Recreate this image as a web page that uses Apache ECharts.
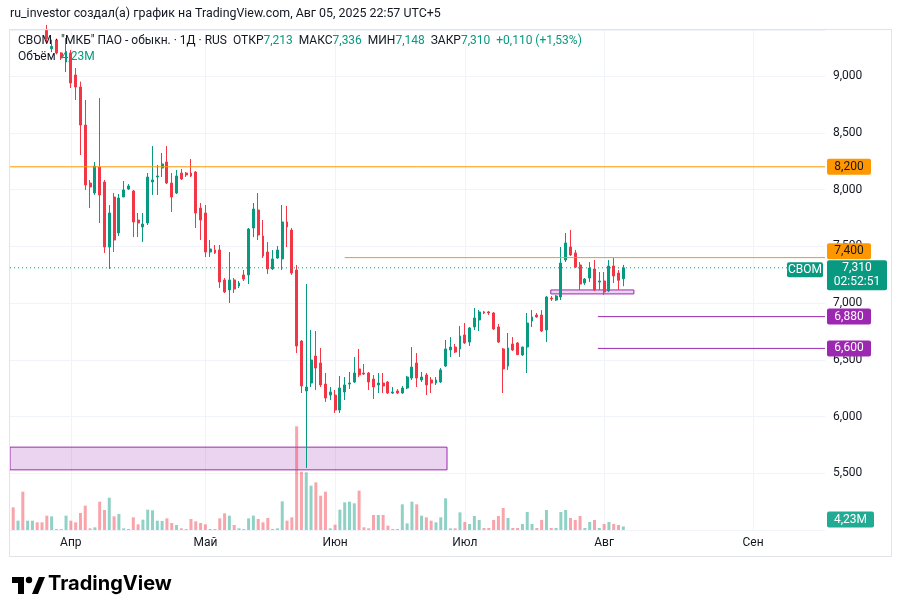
<!DOCTYPE html>
<html>
<head>
<meta charset="utf-8">
<script src="https://cdn.jsdelivr.net/npm/echarts@6.0.0/dist/echarts.min.js"></script>
<style>
  html, body { margin: 0; padding: 0; background: #fff; }
  #chart { width: 902px; height: 616px; }
</style>
</head>
<body>
<div id="chart"></div>
<script>
// Daily bars of СВОМ, one slot per session (slot 0 = first bar at the left edge)
const opens = [
  9.75, 9.55, 9.70, 9.50, 9.58, 9.66, 9.55, 9.40, 9.24, 9.317,
  9.203, 9.123, 9.203, 9.009, 8.903, 8.568, 8.057, 7.969, 8.198, 8.066,
  7.493, 7.934, 7.617, 7.934, 8.004, 7.987, 7.731, 7.670, 7.705, 8.066,
  8.110, 8.189, 8.242, 8.057, 7.969, 8.145, 8.145, 8.145, 8.154, 7.837,
  7.793, 7.449, 7.467, 7.467, 7.203, 7.115, 7.203, 7.150, 7.247, 7.247,
  7.661, 7.819, 7.590, 7.449, 7.300, 7.396, 7.388, 7.714, 7.643, 7.291,
  6.665, 6.225, 6.295, 6.533, 6.471, 6.286, 6.189, 6.189, 6.057, 6.216,
  6.286, 6.304, 6.419, 6.383, 6.383, 6.330, 6.278, 6.295, 6.304, 6.207,
  6.225, 6.207, 6.251, 6.339, 6.471, 6.322, 6.366, 6.322, 6.295, 6.304,
  6.445, 6.586, 6.612, 6.595, 6.718, 6.656, 6.789, 6.850, 6.921, 6.921,
  6.912, 6.789, 6.595, 6.445, 6.639, 6.648, 6.542, 6.612, 6.841, 6.894,
  6.894, 6.762, 7.044, 7.026, 7.053, 7.379, 7.493, 7.441, 7.335, 7.176,
  7.220, 7.300, 7.185, 7.194, 7.106, 7.326, 7.264, 7.213
];
const highs = [
  9.80, 9.70, 9.75, 9.62, 9.70, 9.70, 9.60, 9.45, 9.32, 9.33,
  9.21, 9.335, 9.229, 9.070, 8.95, 8.789, 8.084, 8.242, 8.806, 8.084,
  7.863, 7.969, 7.960, 8.075, 8.048, 7.996, 7.793, 7.793, 8.145, 8.383,
  8.216, 8.322, 8.383, 8.145, 8.172, 8.181, 8.154, 8.269, 8.163, 7.881,
  7.863, 7.555, 7.511, 7.511, 7.220, 7.449, 7.220, 7.194, 7.291, 7.661,
  7.881, 7.969, 7.731, 7.537, 7.467, 7.502, 7.863, 7.855, 7.661, 7.335,
  6.674, 7.167, 6.762, 6.753, 6.604, 6.383, 6.260, 6.233, 6.357, 6.348,
  6.392, 6.524, 6.595, 6.463, 6.392, 6.366, 6.383, 6.383, 6.313, 6.260,
  6.242, 6.269, 6.357, 6.612, 6.559, 6.392, 6.383, 6.348, 6.348, 6.427,
  6.674, 6.700, 6.639, 6.797, 6.824, 6.789, 6.956, 6.938, 6.930, 6.930,
  6.921, 6.815, 6.604, 6.736, 6.700, 6.656, 6.615, 6.912, 6.938, 6.912,
  6.938, 7.062, 7.062, 7.070, 7.493, 7.617, 7.643, 7.467, 7.361, 7.220,
  7.361, 7.379, 7.273, 7.273, 7.379, 7.396, 7.291, 7.336
];
const lows = [
  9.55, 9.50, 9.48, 9.47, 9.55, 9.50, 9.44, 9.30, 9.21, 9.19,
  9.141, 9.035, 8.894, 8.789, 8.304, 7.996, 7.837, 7.952, 7.705, 7.441,
  7.300, 7.449, 7.590, 7.934, 7.996, 7.581, 7.581, 7.537, 7.687, 7.952,
  7.952, 8.110, 8.048, 7.802, 7.960, 8.084, 8.110, 8.110, 7.661, 7.555,
  7.405, 7.405, 7.432, 7.132, 7.088, 7.000, 7.088, 7.132, 7.194, 7.167,
  7.581, 7.555, 7.396, 7.256, 7.291, 7.388, 7.291, 7.493, 7.247, 6.559,
  6.207, 5.546, 6.260, 6.233, 6.260, 6.128, 6.145, 6.031, 6.031, 6.145,
  6.242, 6.295, 6.348, 6.366, 6.233, 6.154, 6.207, 6.207, 6.198, 6.198,
  6.198, 6.198, 6.242, 6.322, 6.260, 6.304, 6.189, 6.207, 6.278, 6.295,
  6.436, 6.524, 6.559, 6.524, 6.639, 6.621, 6.762, 6.753, 6.903, 6.894,
  6.762, 6.648, 6.207, 6.410, 6.577, 6.542, 6.533, 6.383, 6.789, 6.870,
  6.744, 6.656, 7.018, 7.018, 7.026, 7.361, 7.414, 7.308, 7.115, 7.159,
  7.185, 7.106, 7.115, 7.070, 7.097, 7.176, 7.115, 7.148
];
const closes = [
  9.60, 9.65, 9.50, 9.60, 9.66, 9.52, 9.46, 9.33, 9.26, 9.203,
  9.159, 9.211, 8.938, 8.903, 8.568, 8.040, 8.022, 8.207, 7.952, 7.493,
  7.793, 7.555, 7.925, 7.996, 8.031, 7.714, 7.705, 7.696, 8.110, 8.084,
  8.119, 8.225, 8.057, 7.934, 8.119, 8.093, 8.128, 8.119, 7.793, 7.731,
  7.449, 7.476, 7.441, 7.185, 7.097, 7.203, 7.123, 7.176, 7.211, 7.652,
  7.828, 7.599, 7.414, 7.300, 7.388, 7.467, 7.714, 7.670, 7.264, 6.621,
  6.269, 6.260, 6.498, 6.427, 6.278, 6.163, 6.216, 6.057, 6.251, 6.278,
  6.295, 6.383, 6.366, 6.374, 6.304, 6.260, 6.295, 6.269, 6.207, 6.216,
  6.207, 6.251, 6.348, 6.436, 6.339, 6.348, 6.278, 6.295, 6.322, 6.410,
  6.595, 6.612, 6.568, 6.709, 6.648, 6.780, 6.868, 6.921, 6.912, 6.912,
  6.771, 6.656, 6.419, 6.604, 6.586, 6.545, 6.612, 6.824, 6.877, 6.877,
  6.753, 7.053, 7.035, 7.062, 7.352, 7.529, 7.423, 7.317, 7.167, 7.211,
  7.308, 7.115, 7.194, 7.097, 7.326, 7.238, 7.200, 7.310
];
// volume, millions of shares
const volumes = [
  27.2, 11.2, 46.0, 11.2, 11.2, 9.2, 9.2, 17.2, 16.4, 1.2,
  1.2, 17.2, 11.2, 9.2, 20.4, 29.2, 2.0, 3.2, 34.0, 24.0,
  38.8, 16.4, 19.2, 2.0, 1.2, 15.2, 6.8, 12.4, 24.4, 23.6,
  11.2, 10.8, 14.0, 8.4, 6.0, 2.0, 1.2, 13.2, 10.4, 8.4,
  6.8, 1.2, 1.2, 14.0, 20.0, 17.2, 6.0, 2.0, 1.2, 14.0,
  17.2, 13.2, 9.2, 14.4, 1.2, 2.0, 34.4, 11.2, 15.2, 124.4,
  70.0, 69.2, 53.2, 57.2, 41.2, 46.0, 2.0, 6.4, 24.4, 33.2,
  34.0, 32.0, 47.2, 3.2, 2.0, 18.0, 18.0, 18.0, 5.2, 1.2,
  1.2, 30.8, 8.0, 34.0, 30.8, 17.2, 15.2, 11.2, 9.2, 15.2,
  38.0, 2.0, 2.0, 21.2, 9.6, 7.2, 16.8, 12.0, 2.4, 2.4,
  12.0, 16.8, 26.4, 14.4, 2.4, 2.4, 7.2, 21.6, 7.2, 2.4,
  12.0, 24.0, 2.4, 2.4, 21.6, 24.0, 14.4, 12.0, 16.8, 2.4,
  9.6, 12.0, 2.4, 7.2, 9.6, 7.2, 6.0, 4.23
];
const monthSlots = [12, 40, 67, 94, 123, 154];
const monthNames = ['Апр', 'Май', 'Июн', 'Июл', 'Авг', 'Сен'];
const priceLevels = [8.2, 7.4, 6.88, 6.6];
const levelStartSlots = [null, 69, 121.7, 121.7];
const zoneSlots = [[null, 90.3], [111.9, 129.2]];
const zonePrices = [[5.53, 5.73], [7.08, 7.115]];
const ticker = 'СВОМ';
const countdown = '02:52:51';

const UP = '#089981';
const DOWN = '#f23645';
const ORANGE = '#ff9800';
const PURPLE = '#9c27b0';
const GRID = '#f0f3fa';
const TEXT = '#131722';
const FONT = 'Roboto';

const xMin = -0.666, xMax = 168.98;
const yMax = 9 + 46 / 113.5;
const fmt = v => v.toFixed(3).replace('.', ',');

const last = closes.length - 1;
const candleData = opens.map((o, i) => [i, o, closes[i], lows[i], highs[i]]);
const volumeData = volumes.map((v, i) => ({
    value: [i, v],
    itemStyle: {color: closes[i] >= opens[i] ? 'rgba(8,153,129,0.45)' : 'rgba(242,54,69,0.45)'}
}));
const change = closes[last] - closes[last - 1];
const changePct = change / closes[last - 1] * 100;

// horizontal rays as plain two-point line series
const levelColors = [ORANGE, ORANGE, PURPLE, PURPLE];
const levelSeries = priceLevels.map((p, k) => ({
    type: 'line', silent: true, z: 4, symbol: 'none', showSymbol: false,
    data: [[levelStartSlots[k] == null ? xMin : levelStartSlots[k], p], [xMax, p]],
    lineStyle: {color: levelColors[k], width: 1, type: 'solid'},
    itemStyle: {color: levelColors[k]}
}));
levelSeries.push({
    type: 'line', silent: true, z: 4, symbol: 'none', showSymbol: false,
    data: [[xMin, closes[last]], [xMax, closes[last]]],
    lineStyle: {color: UP, width: 1, type: [1, 3]},
    itemStyle: {color: UP}
});

const chart = echarts.init(document.getElementById('chart'));

const legendText = '{d|' + ticker + ' · "МКБ" ПАО - обыкн. · 1Д · RUS  ОТКР}{v|' + fmt(opens[last]) +
    '}{d|  МАКС}{v|' + fmt(highs[last]) + '}{d|  МИН}{v|' + fmt(lows[last]) +
    '}{d|  ЗАКР}{v|' + fmt(closes[last]) + '}{v|  ' + (change >= 0 ? '+' : '') + fmt(change) +
    ' (' + (change >= 0 ? '+' : '') + changePct.toFixed(2).replace('.', ',') + '%)}';

const richStyle = {
    d: {color: TEXT, fontSize: 12, fontFamily: FONT},
    v: {color: UP, fontSize: 12, fontFamily: FONT}
};

const option = {
    animation: false,
    backgroundColor: '#ffffff',
    textStyle: {fontFamily: FONT},
    title: [
        {
            left: 10, top: 8, padding: 0,
            text: 'ru_investor создал(а) график на TradingView.com, Авг 05, 2025 22:57 UTC+5',
            textStyle: {fontSize: 12.4, fontWeight: 'normal', color: TEXT, fontFamily: FONT}
        },
        {
            left: 18, top: 35, padding: 0,
            text: legendText,
            textStyle: {fontSize: 12, fontWeight: 'normal', fontFamily: FONT, rich: richStyle}
        },
        {
            left: 18, top: 51, padding: 0,
            text: '{d|Объём  }{v|' + volumes[last].toFixed(2).replace('.', ',') + 'M}',
            textStyle: {fontSize: 12, fontWeight: 'normal', fontFamily: FONT, rich: richStyle}
        },
        {
            left: 48, top: 574, padding: 0,
            text: 'TradingView',
            textStyle: {fontSize: 20, fontWeight: 'bold', color: '#000000', fontFamily: 'Inter'}
        }
    ],
    grid: {left: 10, right: 77, top: 30, bottom: 86},
    xAxis: {
        type: 'value', min: xMin, max: xMax,
        axisLine: {show: false},
        axisTick: {show: false, customValues: monthSlots},
        axisLabel: {
            customValues: monthSlots,
            formatter: v => monthNames[monthSlots.indexOf(v)] || '',
            color: TEXT, fontSize: 12, margin: 7
        },
        splitLine: {show: true, lineStyle: {color: GRID, width: 1}}
    },
    yAxis: [
        {
            type: 'value', position: 'right', min: 5, max: yMax, interval: 0.5,
            axisLine: {show: false}, axisTick: {show: false},
            axisLabel: {
                color: TEXT, fontSize: 12, margin: 8,
                showMinLabel: false, showMaxLabel: false,
                formatter: v => (v > 5.2 && v < 9.2) ? fmt(v) : ''
            },
            splitLine: {lineStyle: {color: GRID, width: 1}}
        },
        {type: 'value', min: 0, max: 600, show: false}
    ],
    series: [
        {
            type: 'bar', name: 'Объём', xAxisIndex: 0, yAxisIndex: 1,
            data: volumeData, barWidth: 3, z: 1, silent: true
        },
        {
            type: 'candlestick', name: ticker, xAxisIndex: 0, yAxisIndex: 0,
            data: candleData, encode: {x: 0, y: [1, 2, 3, 4]},
            barWidth: 2.4, z: 3, silent: true,
            itemStyle: {color: UP, color0: DOWN, borderColor: UP, borderColor0: DOWN, borderWidth: 1},
            markArea: {
                silent: true,
                itemStyle: {color: 'rgba(156,39,176,0.2)', borderColor: PURPLE, borderWidth: 1},
                data: zoneSlots.map((s, k) => [
                    {coord: [s[0] == null ? xMin : s[0], zonePrices[k][1]]},
                    {coord: [s[1], zonePrices[k][0]]}
                ])
            }
        }
    ].concat(levelSeries)
};

chart.setOption(option);

// price-scale tags, placed through the axes
const yPx = v => chart.convertToPixel({yAxisIndex: 0}, v);
const plotRight = chart.convertToPixel({xAxisIndex: 0}, xMax);
const plotBottom = yPx(5);
const graphics = [];
function tag(x, yTop, w, h, bg, fg, text) {
    graphics.push({
        type: 'rect', z: 100,
        shape: {x: x, y: yTop, width: w, height: h, r: 2},
        style: {fill: bg}
    });
    graphics.push({
        type: 'text', z: 101,
        x: x + w / 2, y: yTop + h / 2,
        style: {
            text: text, fill: fg, font: '12px ' + FONT, lineHeight: 14,
            align: 'center', verticalAlign: 'middle',
            textAlign: 'center', textVerticalAlign: 'middle'
        }
    });
}
const yLast = yPx(closes[last]);
const lastTop = yLast - 7.5, lastH = 30;
const tagColors = [[ORANGE, TEXT], [ORANGE, TEXT], [PURPLE, '#ffffff'], [PURPLE, '#ffffff']];
priceLevels.forEach((p, k) => {
    let top = yPx(p) - 8;
    // keep level tags clear of the last-price tag, as the price scale does
    if (top + 16 > lastTop && top < lastTop + lastH) {
        top = top < lastTop ? lastTop - 17 : lastTop + lastH + 1;
    }
    tag(plotRight + 2, top, 44, 16, tagColors[k][0], tagColors[k][1], fmt(p));
});
tag(plotRight + 2, lastTop, 60, lastH, UP, '#ffffff', fmt(closes[last]) + '\n' + countdown);
tag(plotRight - 38, yLast - 5.5, 36, 15, UP, '#ffffff', ticker);
const yVol = Math.min(chart.convertToPixel({yAxisIndex: 1}, volumes[last]), plotBottom - 10.5);
tag(plotRight + 2, yVol - 8, 47, 16, '#22ab94', '#ffffff', volumes[last].toFixed(2).replace('.', ',') + 'M');
// outer frame
graphics.push({type: 'rect', z: 50, shape: {x: 9.5, y: 29.5, width: 882, height: 527},
    style: {fill: 'none', stroke: '#e0e3eb', lineWidth: 1}});
// TradingView mark
graphics.push({type: 'rect', z: 100, shape: {x: 12, y: 577, width: 12, height: 6}, style: {fill: '#000'}});
graphics.push({type: 'rect', z: 100, shape: {x: 18, y: 577, width: 6, height: 17}, style: {fill: '#000'}});
graphics.push({type: 'circle', z: 100, shape: {cx: 29, cy: 580, r: 3.2}, style: {fill: '#000'}});
graphics.push({type: 'polygon', z: 100, shape: {points: [[32, 594], [38, 594], [45, 577], [39, 577]]}, style: {fill: '#000'}});

chart.setOption({graphic: graphics});
</script>
</body>
</html>
